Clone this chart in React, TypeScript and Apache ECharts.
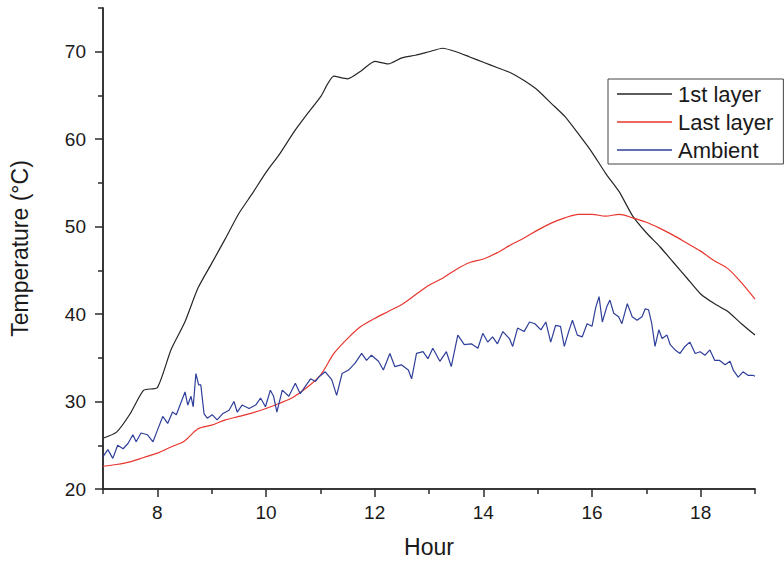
import React, { useEffect, useRef } from "react";
import * as echarts from "echarts";

const layerHours = [
  7.0, 7.25, 7.5, 7.75, 8.0, 8.25, 8.5, 8.75, 9.0, 9.25, 9.5, 9.75, 10.0, 10.25, 10.5, 10.75,
  11.0, 11.25, 11.5, 11.75, 12.0, 12.25, 12.5, 12.75, 13.0, 13.25, 13.5, 13.75, 14.0, 14.25,
  14.5, 14.75, 15.0, 15.25, 15.5, 15.75, 16.0, 16.25, 16.5, 16.75, 17.0, 17.25, 17.5, 17.75,
  18.0, 18.25, 18.5, 18.75, 19.0,
];

const firstLayer = [
  25.8, 26.5, 28.6, 31.3, 31.6, 35.9, 39.0, 43.0, 45.8, 48.6, 51.5, 53.8, 56.2, 58.3, 60.7, 62.8,
  64.8, 67.2, 66.9, 67.8, 68.9, 68.6, 69.3, 69.6, 70.0, 70.4, 70.0, 69.4, 68.8, 68.2,
  67.6, 66.7, 65.6, 64.1, 62.6, 60.6, 58.5, 56.1, 54.0, 51.2, 49.3, 47.7, 45.9, 44.1,
  42.3, 41.2, 40.3, 38.9, 37.6,
];

const lastLayer = [
  22.6, 22.8, 23.1, 23.6, 24.1, 24.8, 25.5, 26.9, 27.3, 27.9, 28.3, 28.7, 29.2, 29.8, 30.5, 31.6,
  33.0, 35.5, 37.2, 38.6, 39.5, 40.3, 41.1, 42.2, 43.3, 44.1, 45.1, 45.9, 46.3, 47.0,
  47.9, 48.7, 49.6, 50.4, 51.0, 51.4, 51.4, 51.2, 51.4, 51.0, 50.5, 49.8, 49.0, 48.1,
  47.2, 46.1, 45.2, 43.6, 41.7,
];

const ambientHours = [
  7.0, 7.09, 7.18, 7.27, 7.37, 7.46, 7.55, 7.61, 7.7, 7.82, 7.92, 8.0, 8.1, 8.19, 8.28, 8.35,
  8.43, 8.51, 8.56, 8.62, 8.66, 8.71, 8.76, 8.8, 8.86, 8.92, 9.01, 9.1, 9.2, 9.32, 9.41, 9.47,
  9.56, 9.69, 9.81, 9.9, 9.99, 10.08, 10.14, 10.2, 10.3, 10.42, 10.54, 10.63, 10.72, 10.82,
  10.91, 10.97, 11.09, 11.21, 11.3, 11.4, 11.52, 11.64, 11.76, 11.85, 11.94, 12.07, 12.16,
  12.28, 12.37, 12.49, 12.62, 12.68, 12.77, 12.89, 12.98, 13.07, 13.2, 13.32, 13.41, 13.53,
  13.65, 13.78, 13.9, 13.99, 14.08, 14.17, 14.26, 14.36, 14.48, 14.54, 14.63, 14.75, 14.85,
  14.95, 15.06, 15.15, 15.24, 15.33, 15.42, 15.49, 15.58, 15.64, 15.73, 15.82, 15.91, 16.0,
  16.07, 16.13, 16.19, 16.27, 16.33, 16.4, 16.49, 16.55, 16.65, 16.74, 16.83, 16.92, 16.98,
  17.04, 17.1, 17.16, 17.23, 17.29, 17.38, 17.44, 17.53, 17.62, 17.71, 17.8, 17.9, 17.99,
  18.08, 18.17, 18.26, 18.35, 18.45, 18.54, 18.6, 18.69, 18.78, 18.87, 18.96, 19.0,
];

const ambient = [
  23.7, 24.5, 23.5, 25.0, 24.6, 25.2, 26.2, 25.4, 26.4, 26.2, 25.4, 26.7, 28.3, 27.5, 28.8, 28.5,
  29.8, 31.1, 29.6, 30.6, 29.4, 33.2, 31.9, 31.9, 28.6, 28.1, 28.5, 27.9, 28.6, 29.0, 30.0, 28.8,
  29.6, 29.2, 29.6, 30.4, 29.4, 31.3, 30.6, 28.8, 31.3, 30.6, 32.1, 30.9, 31.7, 32.6,
  32.3, 32.8, 33.4, 32.5, 30.7, 33.2, 33.6, 34.4, 35.5, 34.7, 35.3, 34.6, 33.6,
  35.5, 34.0, 34.2, 33.6, 32.6, 35.5, 35.7, 34.9, 36.1, 34.6, 35.7, 34.0, 37.6,
  36.5, 36.6, 36.1, 37.8, 36.8, 37.4, 36.6, 38.0, 37.2, 36.3, 38.4, 38.0, 39.1,
  38.9, 38.2, 39.1, 36.8, 38.7, 38.6, 36.3, 38.2, 39.3, 37.6, 37.4, 38.9, 38.6,
  40.8, 42.0, 39.1, 40.8, 41.6, 40.1, 39.7, 38.9, 41.2, 39.7, 39.3, 39.7, 40.6,
  40.5, 38.9, 36.3, 38.2, 37.2, 37.6, 36.5, 35.9, 35.5, 36.3, 36.8, 35.5, 35.7,
  35.3, 35.9, 34.7, 34.7, 34.2, 34.6, 33.6, 32.8, 33.4, 33.0, 33.0, 32.9,
];

const xMajorTicks = [8, 10, 12, 14, 16, 18];
const xMinorTicks = [7, 9, 11, 13, 15, 17, 19];
const yMajorTicks = [20, 30, 40, 50, 60, 70];
const yMinorTicks = [25, 35, 45, 55, 65, 75];

const FONT = "'Liberation Sans', Arial, sans-serif";
const AXIS_COLOR = "#2a2a2a";
const TEXT_COLOR = "#1a1a1a";

const zip = (xs: number[], ys: number[]) => xs.map((x, i) => [x, ys[i]]);

export default function App() {
  const ref = useRef<HTMLDivElement>(null);

  useEffect(() => {
    document.body.style.margin = "0";
    if (!ref.current) return;
    const chart = echarts.init(ref.current, undefined, { renderer: "svg" });
    const baseX = {
      type: "value",
      gridIndex: 0,
      min: 7,
      max: 19,
      splitLine: { show: false },
    };
    const baseY = {
      type: "value",
      gridIndex: 0,
      min: 20,
      max: 75,
      splitLine: { show: false },
    };
    const lineStyle = { color: AXIS_COLOR, width: 1.5 };
    chart.setOption({
      animation: false,
      backgroundColor: "#ffffff",
      textStyle: { fontFamily: FONT },
      grid: { left: 100, right: 29, top: 8, bottom: 74, containLabel: false },
      legend: {
        orient: "vertical",
        left: 608,
        top: 79,
        data: ["1st layer", "Last layer", "Ambient"],
        icon: "rect",
        itemWidth: 55,
        itemHeight: 1.5,
        itemGap: 4,
        borderColor: "#444",
        borderWidth: 1,
        borderRadius: 0,
        padding: [3, 10, 2, 9],
        textStyle: {
          fontFamily: FONT,
          fontSize: 22,
          color: TEXT_COLOR,
          lineHeight: 24,
          padding: [0, 0, 0, 1],
        },
      },
      xAxis: [
        {
          ...baseX,
          name: "Hour",
          nameLocation: "middle",
          nameGap: 46,
          nameTextStyle: { fontFamily: FONT, fontSize: 23, color: TEXT_COLOR },
          axisLine: { show: true, lineStyle },
          axisTick: {
            show: true,
            inside: false,
            length: 8,
            customValues: xMajorTicks,
            lineStyle,
          },
          axisLabel: {
            show: true,
            margin: 14,
            customValues: xMajorTicks,
            fontFamily: FONT,
            fontSize: 19,
            color: TEXT_COLOR,
          },
        },
        {
          ...baseX,
          position: "bottom",
          axisLine: { show: true, lineStyle },
          axisLabel: { show: false },
          axisTick: {
            show: true,
            inside: false,
            length: 5,
            customValues: xMinorTicks,
            lineStyle,
          },
        },
      ],
      yAxis: [
        {
          ...baseY,
          name: "Temperature (°C)",
          nameLocation: "middle",
          nameGap: 72,
          nameTextStyle: { fontFamily: FONT, fontSize: 23, color: TEXT_COLOR },
          axisLine: { show: true, lineStyle },
          axisTick: {
            show: true,
            inside: false,
            length: 8,
            customValues: yMajorTicks,
            lineStyle,
          },
          axisLabel: {
            show: true,
            margin: 17,
            customValues: yMajorTicks,
            fontFamily: FONT,
            fontSize: 19,
            color: TEXT_COLOR,
          },
        },
        {
          ...baseY,
          position: "left",
          axisLine: { show: true, lineStyle },
          axisLabel: { show: false },
          axisTick: {
            show: true,
            inside: false,
            length: 5,
            customValues: yMinorTicks,
            lineStyle,
          },
        },
      ],
      series: [
        {
          name: "1st layer",
          type: "line",
          xAxisIndex: 0,
          yAxisIndex: 0,
          showSymbol: false,
          symbol: "none",
          smooth: 0.2,
          data: zip(layerHours, firstLayer),
          lineStyle: { color: "#262626", width: 1.2 },
          itemStyle: { color: "#262626" },
        },
        {
          name: "Last layer",
          type: "line",
          xAxisIndex: 0,
          yAxisIndex: 0,
          showSymbol: false,
          symbol: "none",
          smooth: 0.3,
          data: zip(layerHours, lastLayer),
          lineStyle: { color: "#e8362e", width: 1.2 },
          itemStyle: { color: "#e8362e" },
        },
        {
          name: "Ambient",
          type: "line",
          xAxisIndex: 0,
          yAxisIndex: 0,
          showSymbol: false,
          symbol: "none",
          data: zip(ambientHours, ambient),
          lineStyle: { color: "#2f3f9a", width: 1.2 },
          itemStyle: { color: "#2f3f9a" },
        },
      ],
    });
    return () => chart.dispose();
  }, []);

  return <div ref={ref} style={{ width: 784, height: 563 }} />;
}
